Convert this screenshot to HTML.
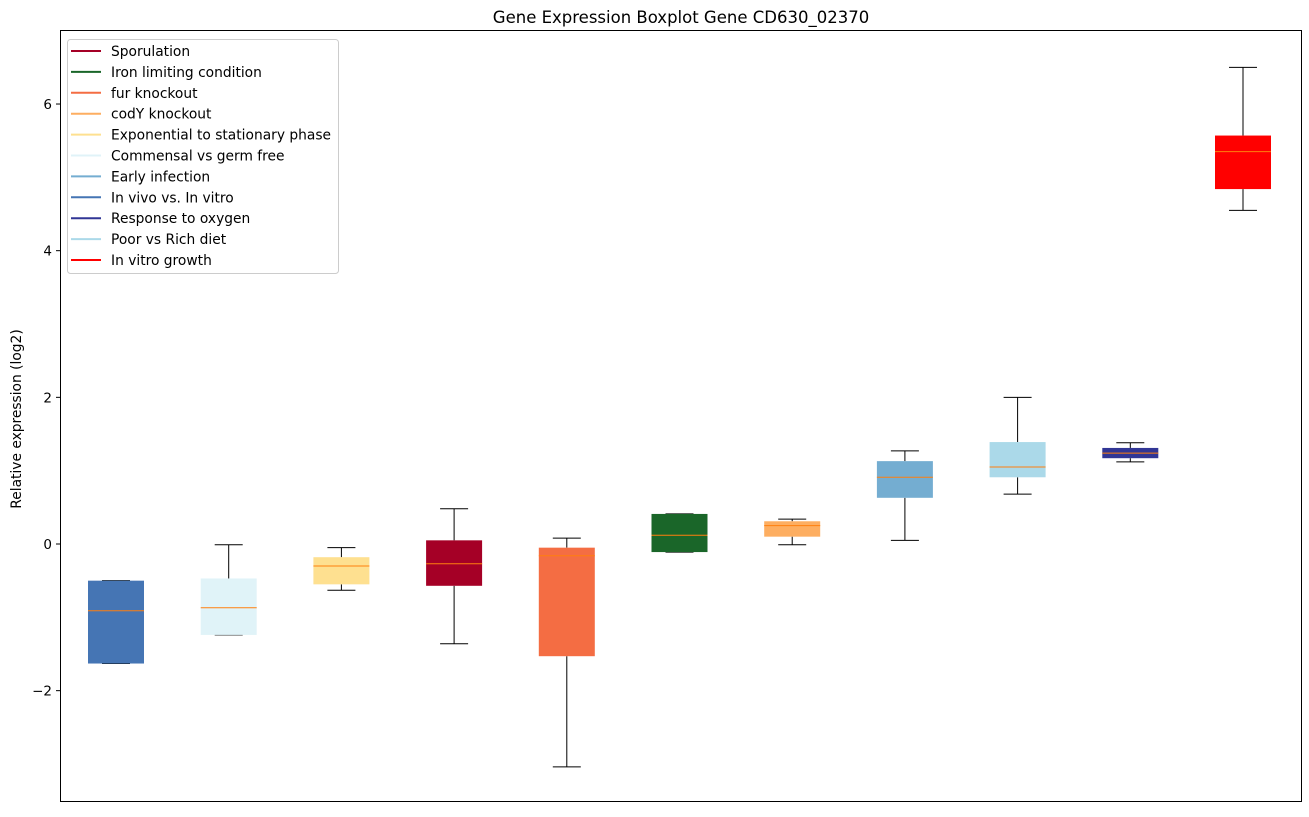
<!DOCTYPE html>
<html><head><meta charset="utf-8">
<style>
body{margin:0;background:#fff;font-family:"Liberation Sans","DejaVu Sans",sans-serif;}
svg text{font-family:"DejaVu Sans","Liberation Sans",sans-serif;}
</style></head>
<body>
<svg id="chart" width="1309" height="812" xmlns="http://www.w3.org/2000/svg">
<rect width="1309" height="812" fill="#fff"/>
<text x="681" y="23" font-size="16.5" text-anchor="middle">Gene Expression Boxplot Gene CD630_02370</text>
<text transform="translate(21,419) rotate(-90)" font-size="13.8" text-anchor="middle">Relative expression (log2)</text>
<g id="boxes"></g>
<g id="yticks"></g>
<rect x="60.5" y="30.5" width="1241" height="771" fill="none" stroke="#000" stroke-width="1"/>
<g id="legend"></g>
</svg>
<script>
const categories=["In vivo vs. In vitro","Commensal vs germ free","Exponential to stationary phase","Sporulation","fur knockout","Iron limiting condition","codY knockout","Early infection","Poor vs Rich diet","Response to oxygen","In vitro growth"];
const colors=["#4575b4","#e0f3f8","#fee090","#a50026","#f46d43","#1a6629","#fdae61","#74add1","#abd9e9","#313695","#ff0000"];
const whiskerLow=[-1.63,-1.24,-0.63,-1.36,-3.04,-0.11,-0.01,0.05,0.68,1.12,4.55];
const q1=[-1.63,-1.24,-0.55,-0.57,-1.53,-0.11,0.10,0.63,0.91,1.17,4.84];
const median=[-0.91,-0.87,-0.30,-0.27,-0.16,0.12,0.25,0.91,1.05,1.24,5.35];
const q3=[-0.50,-0.47,-0.18,0.05,-0.05,0.41,0.31,1.13,1.39,1.31,5.57];
const whiskerHigh=[-0.50,-0.01,-0.05,0.48,0.08,0.41,0.34,1.27,2.00,1.38,6.50];
const yTicks=[-2,0,2,4,6];
const yTickLabels=["\u22122","0","2","4","6"];
const legendLabels=["Sporulation","Iron limiting condition","fur knockout","codY knockout","Exponential to stationary phase","Commensal vs germ free","Early infection","In vivo vs. In vitro","Response to oxygen","Poor vs Rich diet","In vitro growth"];
const legendColors=["#a50026","#1a6629","#f46d43","#fdae61","#fee090","#e0f3f8","#74add1","#4575b4","#313695","#abd9e9","#ff0000"];

const NS="http://www.w3.org/2000/svg";
function y(v){return 544-73.33*v;}
function x(i){return 116+i*112.7;}
function mk(tag,attrs,parent){const e=document.createElementNS(NS,tag);for(const k in attrs)e.setAttribute(k,attrs[k]);parent.appendChild(e);return e;}
const gb=document.getElementById('boxes');
categories.forEach((c,i)=>{
  const g=mk('g',{},gb);
  
  
  const cx=x(i),w=56;
  mk('line',{x1:cx,x2:cx,y1:y(q3[i]),y2:y(whiskerHigh[i]),stroke:'#000'},g);
  mk('line',{x1:cx,x2:cx,y1:y(q1[i]),y2:y(whiskerLow[i]),stroke:'#000'},g);
  mk('line',{x1:cx-14,x2:cx+14,y1:y(whiskerHigh[i]),y2:y(whiskerHigh[i]),stroke:'#000'},g);
  mk('line',{x1:cx-14,x2:cx+14,y1:y(whiskerLow[i]),y2:y(whiskerLow[i]),stroke:'#000'},g);
  mk('rect',{x:cx-w/2,y:y(q3[i]),width:w,height:Math.max(1,y(q1[i])-y(q3[i])),fill:colors[i]},g);
  mk('line',{x1:cx-w/2,x2:cx+w/2,y1:y(median[i]),y2:y(median[i]),stroke:'#ff7f0e','stroke-width':1},g);
});
const gt=document.getElementById('yticks');
yTicks.forEach((t,i)=>{
  const g=mk('g',{},gt);
  
  
  mk('line',{x1:56,x2:60,y1:y(t),y2:y(t),stroke:'#000'},g);
  const tx=mk('text',{x:52,y:y(t)+5,'font-size':13.5,'text-anchor':'end'},g);
  tx.textContent=yTickLabels[i];
});
const gl=document.getElementById('legend');
mk('rect',{x:67.5,y:39.5,width:271,height:234,rx:3,fill:'#fff',stroke:'#ccc'},gl);
legendLabels.forEach((l,i)=>{
  const g=mk('g',{},gl);
  
  
  const yy=51+i*20.9;
  mk('line',{x1:71,x2:101,y1:yy,y2:yy,stroke:legendColors[i],'stroke-width':2},g);
  const t=mk('text',{x:111,y:yy+5,'font-size':13.8},g);
  t.textContent=l;
});
</script>
</body></html>
